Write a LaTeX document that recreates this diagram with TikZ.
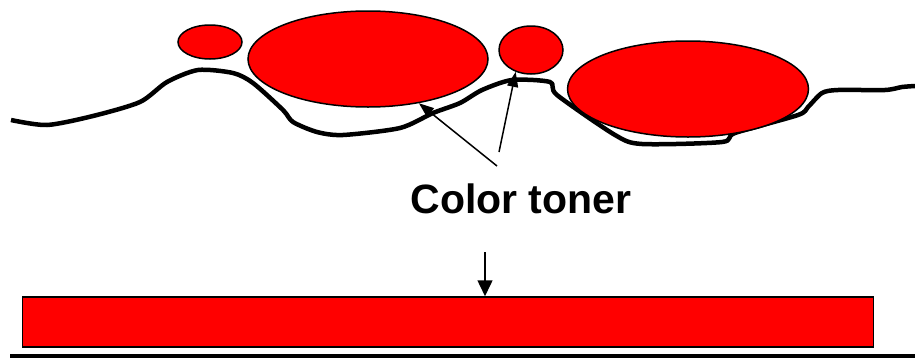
\documentclass[tikz,border=0pt]{standalone}
\usepackage{fontspec}
\setmainfont{Liberation Sans}
\usetikzlibrary{shapes.geometric,arrows.meta}

\tikzset{
  toner/.style={draw, ellipse, fill=red, line width=1.5pt, inner sep=0pt},
  pointer/.style={-{Triangle[length=15pt,width=11pt]}, line width=1.5pt},
}

\begin{document}
\begin{tikzpicture}[x=1pt, y=-1pt]
\useasboundingbox (0,0) rectangle (915,359);

% paper surface
\draw[line width=4.5pt, line join=round] plot[smooth, tension=0.45] coordinates {
  (11,120) (47,125) (93,116) (140,102) (167,82) (198,70) (233,73) (253,83)
  (283,110) (293,122) (317,132) (343,135) (400,128) (433,113) (460,103)
  (482,90) (512,80) (550,82) (557,95) (615,135) (642,144) (722,142)
  (735,133) (798,115) (808,107) (822,93) (838,90) (885,90) (902,87) (915,86)};

% toner particles
\node[toner, minimum width=64pt, minimum height=34pt] (sm1) at (210,42) {};
\node[toner, minimum width=240pt, minimum height=96pt] (tl) at (368,59) {};
\node[toner, minimum width=64pt, minimum height=48pt] (sm2) at (531,50) {};
\node[toner, minimum width=241pt, minimum height=96pt] (tr) at (688,89) {};

\node[anchor=base, font=\fontsize{41}{48}\selectfont\bfseries, inner sep=0pt] (label) at (521,213) {Color toner};
\coordinate (from1) at (497,166);
\coordinate (from2) at (499,152);
\coordinate (drop) at (485,252);

\draw[pointer] (from1) -- (tl.-41);
\draw[pointer] (from2) -- (sm2.-125);

% toner layer after fusing
\node[draw, fill=red, line width=1.5pt, minimum width=851pt, minimum height=50pt, inner sep=0pt] (bar) at (448,322) {};
\draw[-{Triangle[length=16pt,width=15pt]}, line width=1.5pt] (drop) -- (drop |- bar.north);

\coordinate (base l) at (10,356);
\coordinate (base r) at (915,356);
\draw[line width=4pt] (base l) -- (base r);

\end{tikzpicture}
\end{document}
